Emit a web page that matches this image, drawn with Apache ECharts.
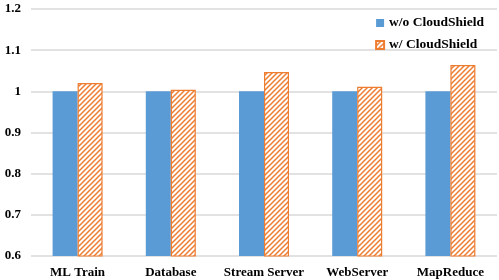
<!DOCTYPE html>
<html><head><meta charset="utf-8">
<script src="https://cdn.jsdelivr.net/npm/echarts@6/dist/echarts.min.js"></script>
<style>html,body{margin:0;padding:0;background:#fff}#c{width:499px;height:280px}</style>
</head><body><div id="c"></div>
<script>
var categories = ['ML Train', 'Database', 'Stream Server', 'WebServer', 'MapReduce'];
var withoutCS = [1, 1, 1, 1, 1];
var withCS = [1.02, 1.004, 1.047, 1.011, 1.064];
var yTicks = [0.6, 0.7, 0.8, 0.9, 1, 1.1, 1.2];

function stripes() {
  var s = 5, c = document.createElement('canvas');
  c.width = s; c.height = s;
  var g = c.getContext('2d');
  g.fillStyle = '#fff'; g.fillRect(0, 0, s, s);
  g.strokeStyle = '#ED7D31'; g.lineWidth = 1.5;
  g.beginPath();
  g.moveTo(0, s); g.lineTo(s, 0);
  g.moveTo(-1, 1); g.lineTo(1, -1);
  g.moveTo(s - 1, s + 1); g.lineTo(s + 1, s - 1);
  g.stroke();
  return c;
}
var font = {fontFamily: 'Liberation Serif', fontWeight: 'bold', fontSize: 13, color: '#000'};
var chart = echarts.init(document.getElementById('c'), null, {renderer: 'canvas'});
chart.setOption({
  animation: false,
  grid: {left: 31, right: 2, top: 9, bottom: 24},
  legend: {
    orient: 'vertical', right: 10, top: 11, itemGap: 8,
    itemWidth: 8, itemHeight: 8, icon: 'rect',
    textStyle: Object.assign({}, font, {fontSize: 13.5}),
    data: ['w/o CloudShield', 'w/ CloudShield']
  },
  xAxis: {
    type: 'category', data: categories,
    axisLine: {show: false}, axisTick: {show: false},
    axisLabel: Object.assign({margin: 10, interval: 0}, font)
  },
  yAxis: {
    type: 'value', min: 0.6, max: 1.2, interval: 0.1,
    axisLabel: Object.assign({margin: 10, formatter: function (v) {
      var r = Math.round(v * 10) / 10;
      return yTicks.indexOf(r) >= 0 ? String(r) : '';
    }}, font),
    splitLine: {lineStyle: {color: '#d9d9d9', width: 1.5}},
    axisLine: {show: false}, axisTick: {show: false}
  },
  series: [
    {name: 'w/o CloudShield', type: 'bar', data: withoutCS, barWidth: 25, barGap: '0%',
     itemStyle: {color: '#5B9BD5'}},
    {name: 'w/ CloudShield', type: 'bar', data: withCS, barWidth: 25,
     itemStyle: {color: {image: stripes(), repeat: 'repeat'}, borderColor: '#ED7D31', borderWidth: 1.2}}
  ]
});
</script></body></html>
